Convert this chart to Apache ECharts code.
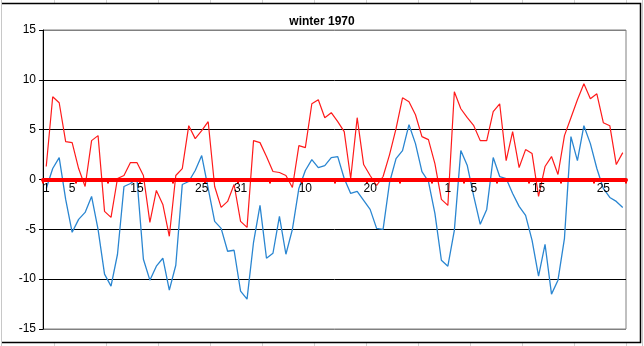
<!DOCTYPE html>
<html>
<head>
<meta charset="utf-8">
<script src="https://cdn.jsdelivr.net/npm/echarts@6/dist/echarts.min.js"></script>
<style>
html,body{margin:0;padding:0;background:#fff;}
#chart{width:644px;height:346px;}
</style>
</head>
<body>
<div id="chart"></div>
<script>
// Categories: days Dec 1 .. Feb 28
var decDays = [];
for (var d = 1; d <= 31; d++) decDays.push(String(d));
var janDays = [];
for (var d2 = 1; d2 <= 31; d2++) janDays.push(String(d2));
var febDays = [];
for (var d3 = 1; d3 <= 28; d3++) febDays.push(String(d3));
var categories = decDays.concat(janDays, febDays);

// indices of categories whose labels are shown
var shownLabelIdx = [0, 4, 14, 24, 30, 40, 50, 62, 66, 76, 86];

var yTicks = [-15, -10, -5, 0, 5, 10, 15];

// red series (upper)
var redValues = [
  1.3, 8.3, 7.7, 3.8, 3.7, 1.1, -0.7, 3.9, 4.4, -3.2,
  -3.8, 0.1, 0.4, 1.7, 1.7, 0.4, -4.3, -1.1, -2.5, -5.7,
  0.4, 1.1, 5.4, 4.1, 4.9, 5.8, -0.7, -2.8, -2.2, -0.5,
  -4.2, -4.8, 3.9, 3.7, 2.3, 0.8, 0.7, 0.4, -0.8, 3.4,
  3.2, 7.6, 8.0, 6.2, 6.7, 5.8, 4.8, 0.1, 6.2, 1.5,
  0.4, -0.6, 0.3, 2.5, 5.1, 8.2, 7.8, 6.5, 4.3, 4.0,
  1.6, -2.0, -2.6, 8.8, 7.1, 6.2, 5.4, 3.9, 3.9, 6.8,
  7.6, 1.9, 4.8, 1.2, 3.0, 2.6, -1.7, 1.3, 2.3, 0.5,
  4.4, 6.2, 8.0, 9.6, 8.1, 8.6, 5.7, 5.4, 1.5, 2.7
];

// blue series (lower)
var blueValues = [
  -0.9, 1.1, 2.2, -2.0, -5.3, -4.0, -3.3, -1.7, -5.0, -9.5,
  -10.7, -7.5, -0.7, -0.4, 0.1, -8.0, -10.1, -8.7, -7.9, -11.1,
  -8.6, -0.5, -0.2, 0.9, 2.4, -0.9, -4.2, -4.9, -7.2, -7.1,
  -11.2, -12.0, -6.3, -2.6, -7.9, -7.4, -3.7, -7.5, -5.0, -0.9,
  0.9, 2.0, 1.2, 1.4, 2.2, 2.3, 0.1, -1.4, -1.2, -2.1,
  -3.0, -4.9, -5.0, -0.3, 2.1, 2.9, 5.5, 3.6, 0.8, -0.2,
  -3.4, -8.1, -8.7, -5.1, 2.9, 1.4, -1.7, -4.5, -3.0, 2.2,
  0.3, 0.1, -1.4, -2.7, -3.6, -6.1, -9.7, -6.5, -11.5, -10.1,
  -5.9, 4.3, 1.9, 5.4, 3.6, 1.1, -0.9, -1.8, -2.2, -2.8
];

var GRID_TOP = 30, GRID_BOTTOM = 17, H = 346;

var chart = echarts.init(document.getElementById('chart'), null, {renderer: 'canvas'});

// faint spreadsheet cell lines outside the chart frame
var sheetLines = [];
for (var cx = 54; cx < 640; cx += 52) {
  sheetLines.push({type: 'line', silent: true, z: 0,
    shape: {x1: cx + 0.5, y1: 0, x2: cx + 0.5, y2: 3},
    style: {stroke: '#d4d4d4', lineWidth: 1}});
  sheetLines.push({type: 'line', silent: true, z: 0,
    shape: {x1: cx + 0.5, y1: 343, x2: cx + 0.5, y2: 346},
    style: {stroke: '#d4d4d4', lineWidth: 1}});
}
sheetLines.push({type: 'line', silent: true, z: 0,
  shape: {x1: 642.5, y1: 0, x2: 642.5, y2: 346},
  style: {stroke: '#c8c8c8', lineWidth: 1}});
sheetLines.push({type: 'line', silent: true, z: 0,
  shape: {x1: 1.5, y1: 0, x2: 1.5, y2: 346},
  style: {stroke: '#c8c8c8', lineWidth: 1}});
// chart frame
sheetLines.push({type: 'polyline', silent: true, z: 1,
  shape: {points: [[2, 3.5], [640.5, 3.5], [640.5, 342.5], [2, 342.5]]},
  style: {stroke: '#000', fill: null, lineWidth: 1.5}});

// vertical distance from plot bottom to the y=0 line (through the axis scale)
var plotH = H - GRID_TOP - GRID_BOTTOM;
var zeroOffset = -plotH * (0 - yTicks[0]) / (yTicks[yTicks.length - 1] - yTicks[0]);

var option = {
  animation: false,
  backgroundColor: '#ffffff',
  title: {
    text: 'winter 1970',
    left: 'center',
    top: 11,
    textStyle: {fontFamily: 'Liberation Sans, Arial, sans-serif', fontSize: 12, fontWeight: 'bold', color: '#000'}
  },
  graphic: sheetLines,
  grid: {
    left: 43, right: 18, top: GRID_TOP, bottom: GRID_BOTTOM,
    containLabel: false,
    outerBoundsMode: 'none',
    show: true,
    borderColor: '#808080',
    borderWidth: 1,
    backgroundColor: 'transparent'
  },
  xAxis: {
    type: 'category',
    data: categories,
    boundaryGap: true,
    position: 'bottom',
    offset: zeroOffset,
    z: 5,
    axisLine: {show: true, onZero: false, lineStyle: {color: '#ff0000', width: 4}},
    axisTick: {show: true, interval: 4, length: 4, inside: false, lineStyle: {color: '#ff0000', width: 2}},
    axisLabel: {
      show: true,
      interval: function (index) { return shownLabelIdx.indexOf(index) >= 0; },
      margin: 3,
      fontFamily: 'Liberation Sans, Arial, sans-serif',
      fontSize: 12,
      color: '#000'
    },
    splitLine: {show: false}
  },
  yAxis: {
    type: 'value',
    min: yTicks[0],
    max: yTicks[yTicks.length - 1],
    interval: 5,
    axisLine: {show: true, onZero: false, lineStyle: {color: '#000', width: 1}},
    axisTick: {show: true, length: 4, lineStyle: {color: '#000'}},
    axisLabel: {
      margin: 7,
      fontFamily: 'Liberation Sans, Arial, sans-serif',
      fontSize: 12,
      color: '#000'
    },
    splitLine: {show: true, lineStyle: {color: ['#808080', '#000', '#000', '#000', '#000', '#000', '#808080'], width: 1}}
  },
  series: [
    {
      name: 'blue',
      type: 'line',
      data: blueValues,
      symbol: 'none',
      z: 2,
      lineStyle: {color: '#2a86d1', width: 1.3},
      itemStyle: {color: '#2a86d1'}
    },
    {
      name: 'red',
      type: 'line',
      data: redValues,
      symbol: 'none',
      z: 3,
      lineStyle: {color: '#ff1a1a', width: 1.2},
      itemStyle: {color: '#ff1a1a'}
    }
  ]
};
chart.setOption(option);
</script>
</body>
</html>
